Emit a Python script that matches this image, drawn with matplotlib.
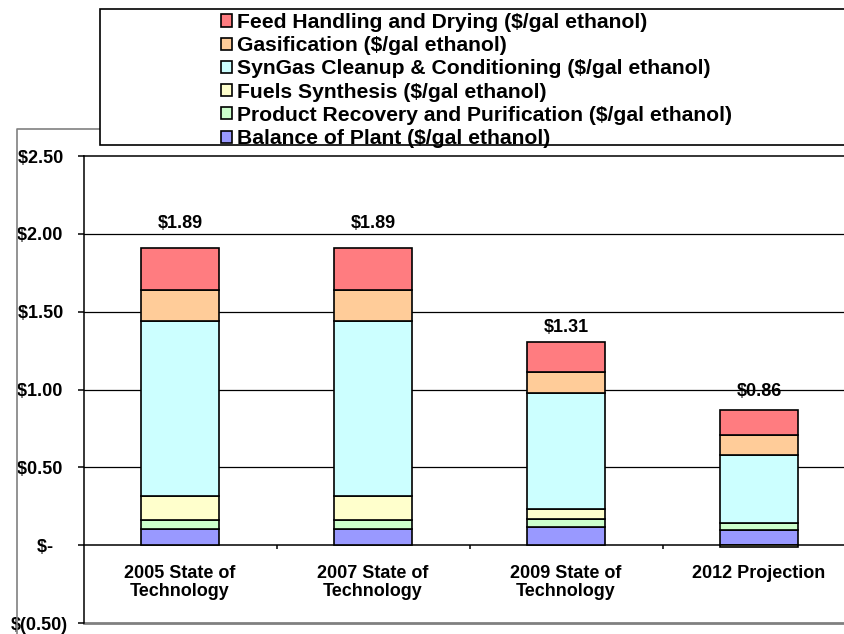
import numpy as np
import matplotlib
matplotlib.use("Agg")
import matplotlib.pyplot as plt
import matplotlib.patches as mpatches
from matplotlib.lines import Line2D

# ── Daten ─────────────────────────────────────────────────────────────────────
categories = ["2005 State of\nTechnology", "2007 State of\nTechnology",
              "2009 State of\nTechnology", "2012 Projection"]
series_names = [
    "Balance of Plant ($/gal ethanol)",
    "Product Recovery and Purification ($/gal ethanol)",
    "Fuels Synthesis ($/gal ethanol)",
    "SynGas Cleanup & Conditioning ($/gal ethanol)",
    "Gasification ($/gal ethanol)",
    "Feed Handling and Drying ($/gal ethanol)",
]
balance_of_plant = [0.107, 0.107, 0.119, 0.100]
product_recovery = [0.057, 0.057, 0.052, 0.045]
fuels_synthesis  = [0.151, 0.151, 0.059, -0.01]
syngas_cleanup   = [1.125, 1.122, 0.746, 0.436]
gasification     = [0.202, 0.205, 0.138, 0.128]
feed_handling    = [0.270, 0.270, 0.191, 0.160]
total_labels = ["$1.89", "$1.89", "$1.31", "$0.86"]

y_ticks = [-0.5, 0.0, 0.5, 1.0, 1.5, 2.0, 2.5]
y_tick_labels = ["$(0.50)", "$-   ", "$0.50 ", "$1.00 ", "$1.50 ", "$2.00 ", "$2.50 "]

# ── Stil ──────────────────────────────────────────────────────────────────────
colors = ["#9999FF", "#CCFFCC", "#FFFFCC", "#CCFFFF", "#FFCC99", "#FF7C80"]
label_pad_px = [24, 24, 15, 18]
FONT = "Liberation Sans"
FS = 13
FS_LEG = 15.2
W, H = 844, 634

plt.rcParams["font.family"] = [FONT, "DejaVu Sans"]
plt.rcParams["font.weight"] = "bold"

fig = plt.figure(figsize=(W/100, H/100), dpi=100, facecolor="white")
ax = fig.add_axes([83.5/W, 1-623/H, 772/W, 467/H])
ax.spines["bottom"].set_position(("data", 0))

values = [balance_of_plant, product_recovery, fuels_synthesis,
          syngas_cleanup, gasification, feed_handling]
x = np.arange(len(categories))
pos_bottom = np.zeros(len(categories))
neg_bottom = np.zeros(len(categories))
handles = []
for name, vals, c in zip(series_names, values, colors):
    vals = np.array(vals)
    bottom = np.where(vals >= 0, pos_bottom, neg_bottom)
    b = ax.bar(x, vals, 0.4, bottom=bottom, color=c, edgecolor="black",
               linewidth=1.2, label=name, zorder=3)
    handles.append(b)
    pos_bottom += np.where(vals >= 0, vals, 0)
    neg_bottom += np.where(vals < 0, vals, 0)

for xi, top, txt, pad in zip(x, pos_bottom, total_labels, label_pad_px):
    ax.annotate(txt, (xi, top), xytext=(0, pad*0.72), textcoords="offset points",
                ha="center", va="center", fontsize=FS, fontweight="bold")

ax.set_xlim(-0.5, 3.5)
ax.set_ylim(-0.5, 2.5)
ax.set_yticks(y_ticks)
ax.set_yticklabels(y_tick_labels, fontsize=FS, fontweight="bold")
ax.tick_params(axis="y", direction="out", length=4.3, width=1.1, pad=7)

ax.set_xticks(x)
ax.set_xticklabels(categories, fontsize=FS, fontweight="bold", linespacing=1.1)
ax.set_xticks([0.5, 1.5, 2.5], minor=True)
ax.tick_params(axis="x", which="major", length=0, pad=14)
ax.tick_params(axis="x", which="minor", direction="out", length=3, width=1.1)

for s in ["bottom", "left", "top"]:
    ax.spines[s].set_color("black")
    ax.spines[s].set_linewidth(1.1)
ax.spines["right"].set_visible(False)
for yv in [0.5, 1.0, 1.5, 2.0]:
    ax.axhline(yv, color="black", lw=0.9, zorder=1)
ax.axhline(-0.5, color="#808080", lw=2.0, zorder=1, clip_on=False)

# Rahmen des Diagrammbereichs (grau)
fig.add_artist(Line2D([17/W, 17/W, 100/W], [0, 1-129/H, 1-129/H],
                      color="#808080", lw=1.2, transform=fig.transFigure))

# Legende mit Rahmen
fig.add_artist(mpatches.Rectangle((100/W, 1-145/H), 0.9, (145-9)/H,
                                  transform=fig.transFigure, fc="white",
                                  ec="black", lw=1.2, zorder=2))
leg = fig.legend(handles[::-1], series_names[::-1], loc="upper left",
                 bbox_to_anchor=(221/W, 1-13/H), frameon=False,
                 prop={"family": FONT, "weight": "bold", "size": FS_LEG},
                 handlelength=0.5, handleheight=0.5, handletextpad=0.25,
                 labelspacing=0.2, borderpad=0, borderaxespad=0)
leg.set_zorder(3)

fig.savefig("out.png", dpi=100)
